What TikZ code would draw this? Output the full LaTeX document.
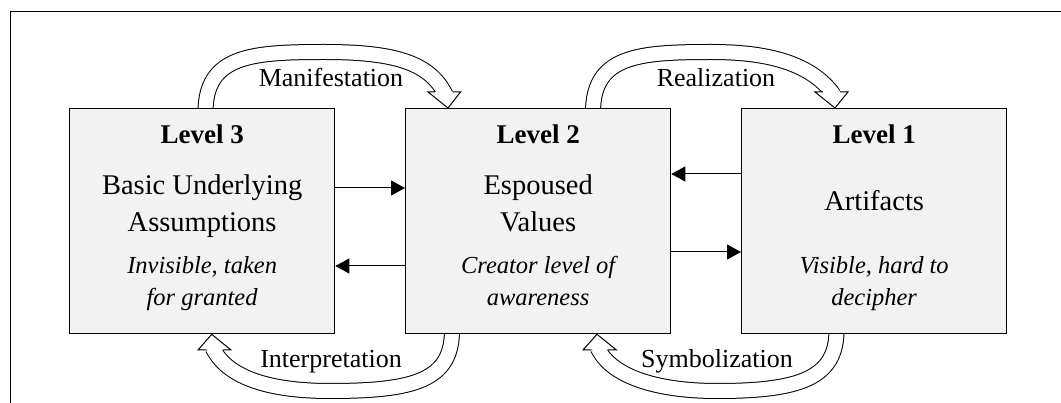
\documentclass[tikz,border=0pt]{standalone}
\usepackage{fontspec}
\setmainfont{Liberation Serif}
\usetikzlibrary{arrows.meta,calc,backgrounds}
\definecolor{boxgray}{HTML}{F2F2F2}

\begin{document}
\begin{tikzpicture}[x=1pt,y=-1pt,
  level/.style={draw=black,line width=1.3pt,fill=boxgray,minimum width=265pt,
    minimum height=225pt,anchor=north west,inner sep=0pt},
  ttl/.style={font=\fontsize{27}{30}\selectfont\bfseries,anchor=base},
  body/.style={font=\fontsize{28.5}{30}\selectfont,anchor=base},
  note/.style={font=\fontsize{24.5}{28}\selectfont\itshape,anchor=base},
  lbl/.style={font=\fontsize{26}{28}\selectfont,anchor=base},
  link/.style={line width=1pt,-{Triangle[length=14pt,width=15pt]}},
  hollow/.style={draw=black,line width=1pt,double=white,double distance=14pt},
  head/.style={fill=white,draw=black,line width=1pt,line join=miter}
]
\clip (0,0) rectangle (1061,403);
\useasboundingbox (0,0) rectangle (1061,403);

% outer frame (runs past the right and bottom edges)
\draw[line width=1.3pt] (10.5,1200) -- (10.5,11.5) -- (1200,11.5);

% the three levels
\node[level] (l3) at (69,108) {};
\node[level] (l2) at (405,108) {};
\node[level] (l1) at (741,108) {};

% Level 3
\node[ttl]  (l3t) at ($(l3.north)+(0,36)$) {Level 3};
\node[body] (l3a) at ($(l3.north)+(0,87)$) {Basic Underlying};
\node[body] (l3b) at ($(l3.north)+(0,123.5)$) {Assumptions};
\node[note] (l3c) at ($(l3.north)+(0,166)$) {Invisible, taken};
\node[note] (l3d) at ($(l3.north)+(0,198)$) {for granted};

% Level 2
\node[ttl]  (l2t) at ($(l2.north)+(0,36)$) {Level 2};
\node[body] (l2a) at ($(l2.north)+(0,87)$) {Espoused};
\node[body] (l2b) at ($(l2.north)+(0,123.5)$) {Values};
\node[note] (l2c) at ($(l2.north)+(0,166)$) {Creator level of};
\node[note] (l2d) at ($(l2.north)+(0,198)$) {awareness};

% Level 1
\node[ttl]  (l1t) at ($(l1.north)+(0,36)$) {Level 1};
\node[body] (l1a) at ($(l1.north)+(0,103)$) {Artifacts};
\node[note] (l1c) at ($(l1.north)+(0,166)$) {Visible, hard to};
\node[note] (l1d) at ($(l1.north)+(0,198)$) {decipher};

% straight links between the levels
\draw[link] ($(l3.north east)+(0,80)$)  -- ($(l2.north west)+(0,80)$);
\draw[link] ($(l2.north west)+(0,158)$) -- ($(l3.north east)+(0,158)$);
\draw[link] ($(l1.north west)+(0,66)$)  -- ($(l2.north east)+(0,66)$);
\draw[link] ($(l2.north east)+(0,144)$) -- ($(l1.north west)+(0,144)$);

% curved hollow arrows, kept behind the boxes
\begin{scope}[on background layer]
  % Manifestation: Level 3 -> Level 2
  \coordinate (m0) at ($(l3.north west)+(136.5,4)$);
  \coordinate (m1) at ($(l2.north west)+(39,-16.3)$);
  \draw[hollow] (m0) .. controls (205.5,55) and (252.5,52) .. (324.5,52)
                     .. controls (392.5,52) and (427.5,62) .. (m1) -- ++(2,3.5);
  \filldraw[head] (435,92) -- (428,92) -- ($(l2.north west)+(43,0)$) -- (460.5,92) -- (453,92);

  % Realization: Level 2 -> Level 1
  \coordinate (r0) at ($(l2.north west)+(188,4)$);
  \coordinate (r1) at ($(l1.north west)+(90.5,-16.3)$);
  \draw[hollow] (r0) .. controls (593,55) and (640,52) .. (712,52)
                     .. controls (772,52) and (810,65) .. (r1) -- ++(2,3);
  \filldraw[head] (823,92) -- (815,92) -- ($(l1.north west)+(94,0)$) -- (848,92) -- (840,92);

  % Interpretation: Level 2 -> Level 3
  \coordinate (i0) at ($(l2.south west)+(47,-4)$);
  \coordinate (i1) at ($(l3.south west)+(145.5,17)$);
  \draw[hollow] (i0) .. controls (452,380) and (415,391) .. (330,391)
                     .. controls (270,391) and (230,378) .. (i1) -- ++(-2,-3.5);
  \filldraw[head] (206.5,350) -- (198,350) -- ($(l3.south west)+(142.7,0)$) -- (231,350) -- (223,350);

  % Symbolization: Level 1 -> Level 2
  \coordinate (s0) at ($(l1.south west)+(95.5,-4)$);
  \coordinate (s1) at ($(l2.south west)+(194.5,17)$);
  \draw[hollow] (s0) .. controls (836.5,378) and (800,391) .. (717,391)
                     .. controls (660,391) and (615,378) .. (s1) -- ++(-2,-3.5);
  \filldraw[head] (591.5,350) -- (583,350) -- ($(l2.south west)+(192,0)$) -- (616.5,350) -- (607.5,350);
\end{scope}

% arrow labels
\node[lbl] (man) at (331,87)  {Manifestation};
\node[lbl] (rea) at (716,87)  {Realization};
\node[lbl] (int) at (331,368) {Interpretation};
\node[lbl] (sym) at (717,368) {Symbolization};
\end{tikzpicture}
\end{document}
